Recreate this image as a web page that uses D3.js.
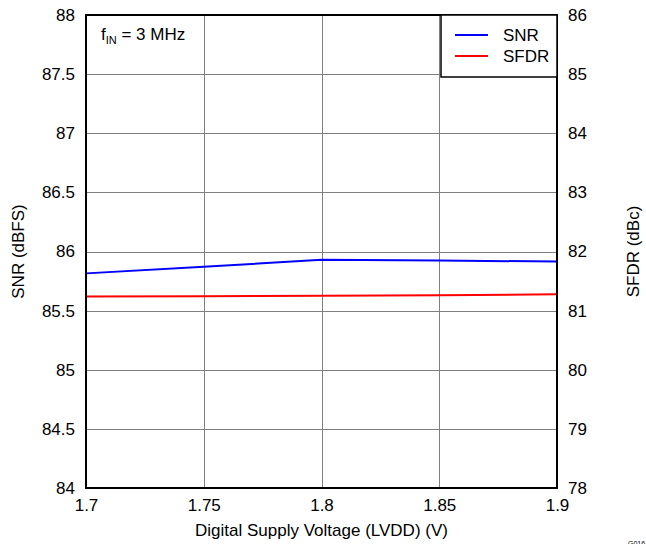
<!DOCTYPE html>
<html>
<head>
<meta charset="utf-8">
<script src="https://cdn.jsdelivr.net/npm/d3@7"></script>
<style>
  body { margin: 0; background: #fff; }
  svg { display: block; font-family: Arial, "Liberation Sans", sans-serif; }
</style>
</head>
<body>
<svg id="chart" width="646" height="544"></svg>
<script>
// Data
const voltages = [1.7, 1.75, 1.8, 1.85, 1.9];
const snrValues = [85.815, 85.87, 85.93, 85.924, 85.915];
const sfdrValues = [81.24, 81.245, 81.25, 81.262, 81.276];
const xTicks = [1.7, 1.75, 1.8, 1.85, 1.9];
const xTickLabels = ["1.7", "1.75", "1.8", "1.85", "1.9"];
const leftTicks = [84, 84.5, 85, 85.5, 86, 86.5, 87, 87.5, 88];
const rightTicks = [78, 79, 80, 81, 82, 83, 84, 85, 86];
const seriesNames = ["SNR", "SFDR"];
const seriesColors = ["#0000ff", "#ff0000"];

const svg = d3.select("#chart");
const m = { left: 86, right: 557, top: 15, bottom: 488 };

const x = d3.scaleLinear().domain([1.7, 1.9]).range([m.left, m.right]);
const yL = d3.scaleLinear().domain([84, 88]).range([m.bottom, m.top]);
const yR = d3.scaleLinear().domain([78, 86]).range([m.bottom, m.top]);

// Grid
const grid = svg.append("g").attr("stroke", "#808080").attr("stroke-width", 1);
grid.selectAll("line.v").data(xTicks.slice(1, -1)).enter().append("line")
  .attr("x1", d => Math.round(x(d)) + 0.5).attr("x2", d => Math.round(x(d)) + 0.5)
  .attr("y1", m.top).attr("y2", m.bottom);
grid.selectAll("line.h").data(leftTicks.slice(1, -1)).enter().append("line")
  .attr("y1", d => Math.round(yL(d)) + 0.5).attr("y2", d => Math.round(yL(d)) + 0.5)
  .attr("x1", m.left).attr("x2", m.right);

// Lines
const series = [snrValues.map((v, i) => [voltages[i], v]), sfdrValues.map((v, i) => [voltages[i], v])];
const yScales = [yL, yR];
series.forEach((s, k) => {
  const line = d3.line().x(d => x(d[0])).y(d => yScales[k](d[1]));
  svg.append("path").datum(s).attr("d", line)
    .attr("fill", "none").attr("stroke", seriesColors[k]).attr("stroke-width", 2);
});

// Axes (labels only, frame drawn separately)
const fontSize = 17;
const ax = svg.append("g").attr("transform", `translate(0,${m.bottom})`)
  .call(d3.axisBottom(x).tickValues(xTicks).tickFormat((d, i) => xTickLabels[i]).tickSize(0).tickPadding(10.5));
const al = svg.append("g").attr("transform", `translate(${m.left},0)`)
  .call(d3.axisLeft(yL).tickValues(leftTicks).tickFormat(d3.format("")).tickSize(0).tickPadding(11));
const ar = svg.append("g").attr("transform", `translate(${m.right},0)`)
  .call(d3.axisRight(yR).tickValues(rightTicks).tickFormat(d3.format("")).tickSize(0).tickPadding(11));
[ax, al, ar].forEach(g => {
  g.select(".domain").remove();
  g.selectAll("text").attr("font-size", fontSize).attr("fill", "#000")
    .attr("font-family", "Arial, 'Liberation Sans', sans-serif");
});

// Frame
svg.append("rect").attr("x", m.left).attr("y", m.top)
  .attr("width", m.right - m.left).attr("height", m.bottom - m.top)
  .attr("fill", "none").attr("stroke", "#000").attr("stroke-width", 2);

// Axis titles
svg.append("text").attr("x", (m.left + m.right) / 2).attr("y", 536)
  .attr("text-anchor", "middle").attr("font-size", fontSize)
  .text("Digital Supply Voltage (LVDD) (V)");
svg.append("text").attr("transform", `translate(24,${(m.top + m.bottom) / 2}) rotate(-90)`)
  .attr("text-anchor", "middle").attr("font-size", fontSize).text("SNR (dBFS)");
svg.append("text").attr("transform", `translate(639,${(m.top + m.bottom) / 2}) rotate(-90)`)
  .attr("text-anchor", "middle").attr("font-size", fontSize).text("SFDR (dBc)");

// Annotation
const ann = svg.append("text").attr("x", 101).attr("y", 40).attr("font-size", fontSize);
ann.append("tspan").text("f");
ann.append("tspan").attr("font-size", 11).attr("dy", 4).text("IN");
ann.append("tspan").attr("dy", -4).text(" = 3 MHz");

// Legend
const lg = svg.append("g");
lg.append("rect").attr("x", 441).attr("y", m.top).attr("width", m.right - 441).attr("height", 62)
  .attr("fill", "#fff").attr("stroke", "#000").attr("stroke-width", 1.5);
seriesNames.forEach((n, i) => {
  const yy = 35 + i * 21;
  lg.append("line").attr("x1", 455).attr("x2", 488).attr("y1", yy).attr("y2", yy)
    .attr("stroke", seriesColors[i]).attr("stroke-width", 2);
  lg.append("text").attr("x", 503).attr("y", yy).attr("dy", "0.35em")
    .attr("font-size", fontSize).text(n);
});

// Figure id
svg.append("text").attr("x", 628).attr("y", 546).attr("font-size", 7).attr("fill", "#000").text("G016");
</script>
</body>
</html>
